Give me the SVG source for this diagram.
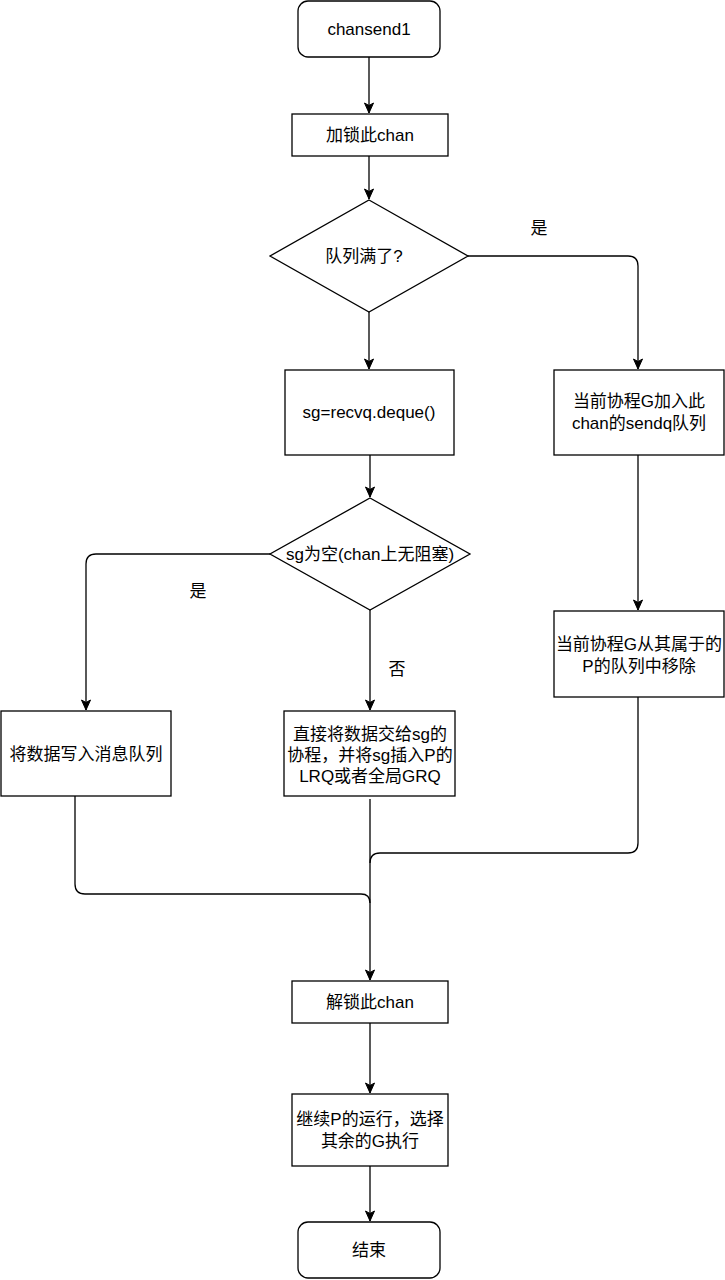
<svg xmlns="http://www.w3.org/2000/svg" width="725" height="1280" viewBox="0 0 725 1280">
<style>
.n{fill:#fff;stroke:#000;stroke-width:1.3}
.t{font-family:"Liberation Sans","Noto Sans CJK SC",sans-serif;font-size:17px;fill:#000;text-anchor:middle;dominant-baseline:central}
.c{fill:none;stroke:#000;stroke-width:1.3}
</style>
<defs>
<marker id="a" markerUnits="userSpaceOnUse" markerWidth="12" markerHeight="12" viewBox="0 0 12 12" refX="11" refY="6" orient="auto">
<path d="M1,1.5 L11,6 L1,10.5 L3.5,6 Z" fill="#000" stroke="#000" stroke-width="1"/>
</marker>
</defs>
<rect width="725" height="1280" fill="#fff"/>
<g id="connectors">
<path class="c" d="M369,57 V113" marker-end="url(#a)"/>
<path class="c" d="M369,156 V199" marker-end="url(#a)"/>
<path class="c" d="M369,312 V369" marker-end="url(#a)"/>
<path class="c" d="M468,256 H628 Q638,256 638,266 V369" marker-end="url(#a)"/>
<path class="c" d="M370,455 V497" marker-end="url(#a)"/>
<path class="c" d="M638,455 V610" marker-end="url(#a)"/>
<path class="c" d="M270,554 H96 Q86,554 86,564 V710" marker-end="url(#a)"/>
<path class="c" d="M370,610 V710" marker-end="url(#a)"/>
<path class="c" d="M370,799 V980" marker-end="url(#a)"/>
<path class="c" d="M75,796 V884 Q75,894 85,894 H361 Q370,894 370,903"/>
<path class="c" d="M638,697 V843 Q638,853 628,853 H380 Q370,853 370,863"/>
<path class="c" d="M370,1023 V1093" marker-end="url(#a)"/>
<path class="c" d="M370,1166 V1221" marker-end="url(#a)"/>
<text class="t" x="539" y="228">是</text>
<text class="t" x="198" y="591">是</text>
<text class="t" x="397" y="669">否</text>
</g>
<g id="start">
<rect class="n" x="298" y="1" width="142" height="56" rx="10"/>
<text class="t" x="369" y="29">chansend1</text>
</g>
<g id="lock">
<rect class="n" x="292" y="114" width="156" height="42"/>
<text class="t" x="370" y="135">加锁此chan</text>
</g>
<g id="full">
<path class="n" d="M369,200 L468,256 L369,312 L270,256 Z"/>
<text class="t" x="364" y="256">队列满了?</text>
</g>
<g id="deque">
<rect class="n" x="285" y="370" width="169" height="85"/>
<text class="t" x="369" y="412">sg=recvq.deque()</text>
</g>
<g id="enqueue">
<rect class="n" x="554" y="370" width="170" height="85"/>
<text class="t" x="639" y="401">当前协程G加入此</text>
<text class="t" x="639" y="423">chan的sendq队列</text>
</g>
<g id="empty">
<path class="n" d="M370,498 L470,554 L370,610 L270,554 Z"/>
<text class="t" x="370" y="554">sg为空(chan上无阻塞)</text>
</g>
<g id="remove">
<rect class="n" x="554" y="611" width="170" height="86"/>
<text class="t" x="639" y="644">当前协程G从其属于的</text>
<text class="t" x="639" y="666">P的队列中移除</text>
</g>
<g id="write">
<rect class="n" x="1" y="711" width="170" height="85"/>
<text class="t" x="86" y="754">将数据写入消息队列</text>
</g>
<g id="handoff">
<rect class="n" x="284" y="711" width="171" height="85"/>
<text class="t" x="370" y="734">直接将数据交给sg的</text>
<text class="t" x="370" y="755">协程，并将sg插入P的</text>
<text class="t" x="370" y="776">LRQ或者全局GRQ</text>
</g>
<g id="unlock">
<rect class="n" x="292" y="981" width="156" height="42"/>
<text class="t" x="370" y="1002">解锁此chan</text>
</g>
<g id="continue">
<rect class="n" x="292" y="1094" width="156" height="72"/>
<text class="t" x="370" y="1119">继续P的运行，选择</text>
<text class="t" x="370" y="1141">其余的G执行</text>
</g>
<g id="end">
<rect class="n" x="298" y="1222" width="142" height="56" rx="10"/>
<text class="t" x="369" y="1250">结束</text>
</g>
</svg>
